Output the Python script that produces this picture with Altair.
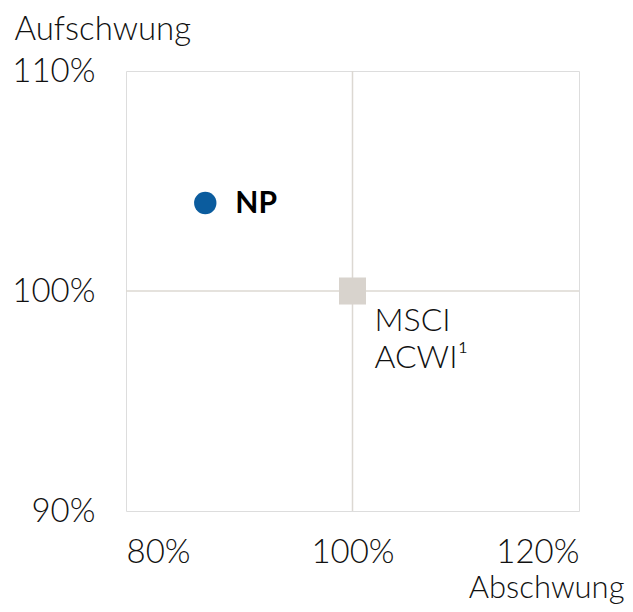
import altair as alt
import pandas as pd

names = ["NP", "MSCI ACWI¹"]
down = [87, 100]   # Abschwung (x)
up = [104, 100]    # Aufschwung (y)
shapes = ["circle", "square"]
colors = ["#0b5c9e", "#d8d3cd"]
x_ticks = [80, 100, 120]
y_ticks = [90, 100, 110]

df = pd.DataFrame({"name": names, "x": down, "y": up, "shape": shapes, "color": colors})
df_np = df.iloc[[0]].assign(label="NP")
df_ms = df.iloc[[1]].assign(label="MSCI\nACWI¹")
ref = pd.DataFrame({"v": [100]})

FONT = "Lato"
FS = 33
FW = 300

xs = alt.Scale(domain=[80, 120], nice=False, zero=False)
ys = alt.Scale(domain=[90, 110], nice=False, zero=False)

xaxis = alt.Axis(values=x_ticks, labelExpr="datum.value + '%'", title="Abschwung",
                 grid=False, domain=False, ticks=False, labelPadding=25,
                 labelFont=FONT, labelFontSize=FS, labelFontWeight=FW, labelColor="#111111",
                 titleFont=FONT, titleFontSize=31, titleFontWeight=FW, titleColor="#111111",
                 titleAnchor="end", titleAlign="right", titleX=498, titleY=86,
                 titleBaseline="alphabetic")
yaxis = alt.Axis(values=y_ticks, labelExpr="datum.value + '%'", title="Aufschwung",
                 grid=False, domain=False, ticks=False, labelPadding=31,
                 labelFont=FONT, labelFontSize=FS, labelFontWeight=FW, labelColor="#111111",
                 titleFont=FONT, titleFontSize=FS, titleFontWeight=FW, titleColor="#111111",
                 titleAngle=0, titleAlign="left", titleX=-112, titleY=-42,
                 titleBaseline="middle")

base = alt.Chart(df)

vrule = alt.Chart(ref).mark_rule(color="#dcd8d2", strokeWidth=1.5).encode(
    x=alt.X("v:Q", scale=xs, axis=xaxis))
hrule = alt.Chart(ref).mark_rule(color="#dcd8d2", strokeWidth=1.5).encode(
    y=alt.Y("v:Q", scale=ys, axis=yaxis))

pts = base.mark_point(filled=True, opacity=1).encode(
    x=alt.X("x:Q", scale=xs, axis=xaxis),
    y=alt.Y("y:Q", scale=ys, axis=yaxis),
    shape=alt.Shape("shape:N", scale=None, legend=None),
    color=alt.Color("color:N", scale=None, legend=None),
    size=alt.condition(alt.datum.shape == "circle", alt.value(500), alt.value(730)),
)

t_np = alt.Chart(df_np).mark_text(align="left", baseline="middle", dx=30, dy=1,
                                 font=FONT, fontSize=30, fontWeight="bold", color="#000000").encode(
    x=alt.X("x:Q", scale=xs), y=alt.Y("y:Q", scale=ys), text="label:N")
t_ms = alt.Chart(df_ms).mark_text(align="left", baseline="top", dx=22, dy=15, lineBreak="\n",
                                 lineHeight=37, font=FONT, fontSize=32, fontWeight=FW,
                                 color="#111111").encode(
    x=alt.X("x:Q", scale=xs), y=alt.Y("y:Q", scale=ys), text="label:N")

chart = alt.layer(vrule, hrule, pts, t_np, t_ms).properties(
    width=453, height=440,
    autosize=alt.AutoSizeParams(type="none"),
    padding={"left": 118, "top": 63, "right": 46, "bottom": 93},
).configure_view(stroke="#b4b0aa", strokeWidth=1.5).configure(background="white")

chart.save("out.html", embed_options={"renderer": "svg", "actions": False})
